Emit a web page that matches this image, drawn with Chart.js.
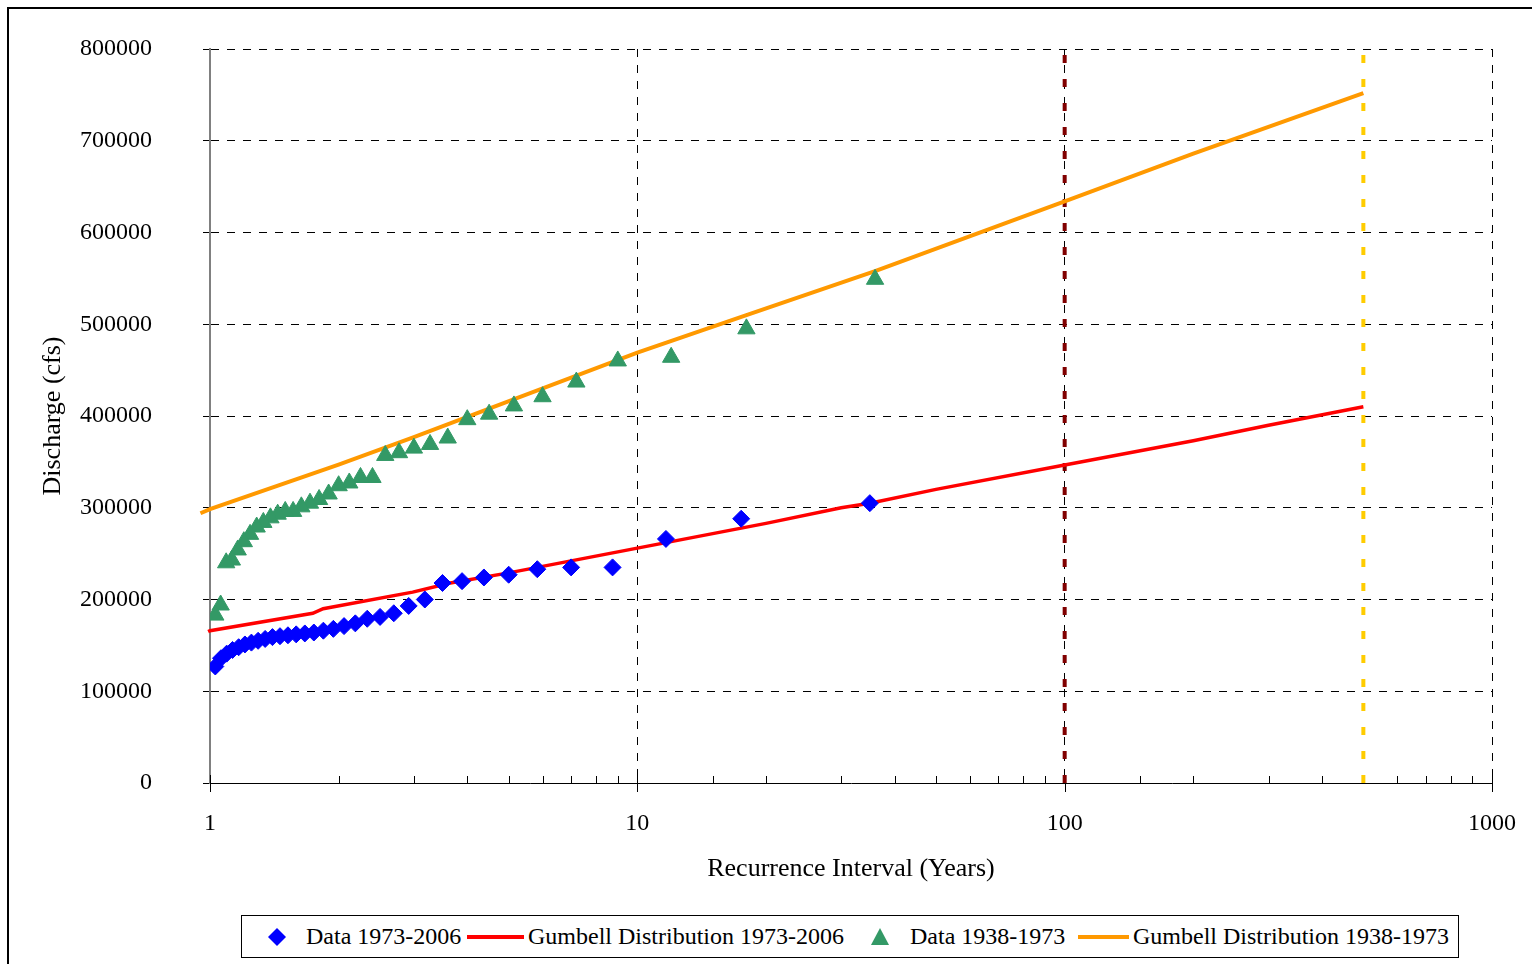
<!DOCTYPE html>
<html>
<head>
<meta charset="utf-8">
<script src="https://cdn.jsdelivr.net/npm/chart.js@4/dist/chart.umd.min.js"></script>
<style>
html,body{margin:0;padding:0;background:#fff;}
#wrap{position:relative;width:1532px;height:964px;overflow:hidden;font-family:"Liberation Serif","Times New Roman",serif;background:#fff;}
#frame{position:absolute;left:7px;top:7px;width:1600px;height:1000px;border-left:2px solid #000;border-top:2px solid #000;pointer-events:none;}
#c{position:absolute;left:0;top:0;}
#legend{position:absolute;left:241px;top:915px;width:1216px;height:41px;border:1px solid #000;background:#fff;}
.lt{position:absolute;top:916px;height:41px;line-height:41px;font-size:24px;white-space:nowrap;color:#000;}
.ic{position:absolute;}
</style>
</head>
<body>
<div id="wrap">
  <canvas id="c" width="1532" height="964"></canvas>
  <div id="frame"></div>
  <div id="legend"></div>
  <svg class="ic" style="left:268px;top:928px" width="18" height="18"><polygon points="9,0 18,9 9,18 0,9" fill="#0000FF"/></svg>
  <div class="lt" id="l1" style="left:306px"></div>
  <div class="ic" style="left:467px;top:935px;width:57px;height:4px;background:#FF0000"></div>
  <div class="lt" id="l2" style="left:528px"></div>
  <svg class="ic" style="left:871px;top:928px" width="18" height="17"><polygon points="9,0 18,17 0,17" fill="#339966"/></svg>
  <div class="lt" id="l3" style="left:910px"></div>
  <div class="ic" style="left:1078px;top:935px;width:51px;height:4px;background:#FF9900"></div>
  <div class="lt" id="l4" style="left:1133px"></div>
</div>
<script>
// ---- data ----
const seriesNames = ['Data 1973-2006', 'Gumbell Distribution 1973-2006', 'Data 1938-1973', 'Gumbell Distribution 1938-1973'];

// Data 1973-2006: recurrence interval (years) and discharge (cfs)
const data7306T = [35, 17.5, 11.667, 8.75, 7, 5.833, 5, 4.375, 3.889, 3.5, 3.182, 2.917, 2.692, 2.5, 2.333, 2.188, 2.059, 1.944, 1.842, 1.75, 1.667, 1.591, 1.522, 1.458, 1.4, 1.346, 1.296, 1.25, 1.207, 1.167, 1.129, 1.094, 1.061, 1.029];
const data7306Q = [305000, 288000, 266000, 235000, 235000, 233000, 227000, 224000, 220000, 218000, 200000, 193000, 185000, 181000, 179000, 174000, 171000, 168000, 166000, 164000, 163000, 162000, 161000, 160000, 159000, 157000, 155000, 153000, 151000, 148000, 145000, 141000, 136000, 127000];

// Data 1938-1973
const data3873T = [36, 18, 12, 9, 7.2, 6, 5.143, 4.5, 4, 3.6, 3.273, 3, 2.769, 2.571, 2.4, 2.25, 2.118, 2, 1.895, 1.8, 1.714, 1.636, 1.565, 1.5, 1.44, 1.385, 1.333, 1.286, 1.241, 1.2, 1.161, 1.125, 1.091, 1.059, 1.029];
const data3873Q = [549000, 495000, 464000, 460000, 437000, 421000, 411000, 402000, 396000, 376000, 369000, 365000, 360000, 357000, 333000, 333000, 327000, 324000, 315000, 309000, 305000, 301000, 296000, 296000, 293000, 289000, 284000, 279000, 271000, 263000, 254000, 243000, 240000, 194000, 183000];

// Gumbell Distribution 1973-2006
const gum7306T = [0.99, 1, 1.74, 1.84, 2.98, 3.65, 5, 10, 20, 30, 35, 50, 100, 200, 300, 500];
const gum7306Q = [165000, 166000, 185000, 190000, 208000, 218000, 229000, 256000, 283000, 300000, 305000, 320000, 346500, 373000, 390000, 410000];

// Gumbell Distribution 1938-1973
const gum3873T = [0.95, 1, 2, 3, 4.5, 10, 18, 36, 100, 200, 500];
const gum3873Q = [294000, 298500, 347000, 377000, 408000, 469000, 510000, 558000, 634000, 686000, 752000];

// vertical reference lines (100-year and 500-year)
const refT = [100, 500];
const refColors = ['#800000', '#FFCC00'];
const yRange = [0, 800000];

const xTickLabels = ['1', '10', '100', '1000'];
const yStep = 100000;
const xTitle = 'Recurrence Interval (Years)';
const yTitle = 'Discharge (cfs)';

// ---- legend text ----
['l1','l2','l3','l4'].forEach((id,i)=>{ document.getElementById(id).textContent = seriesNames[i]; });

const pts = (xs, ys) => xs.map((x, i) => ({x: x, y: ys[i]}));
const isPow10 = v => { const l = Math.log10(v); return Math.abs(l - Math.round(l)) < 1e-9; };

const datasets = [
  {label: seriesNames[0], data: pts(data7306T, data7306Q), showLine: false,
   pointStyle: 'rectRot', pointRadius: 8.5, pointBackgroundColor: '#0000FF', pointBorderColor: '#0000FF', pointBorderWidth: 1},
  {label: seriesNames[2], data: pts(data3873T, data3873Q), showLine: false,
   pointStyle: 'triangle', pointRadius: 10, pointBackgroundColor: '#339966', pointBorderColor: '#339966', pointBorderWidth: 1},
  {label: seriesNames[1], data: pts(gum7306T, gum7306Q), showLine: true, pointRadius: 0,
   borderColor: '#FF0000', borderWidth: 3.5, fill: false, tension: 0, clip: false},
  {label: seriesNames[3], data: pts(gum3873T, gum3873Q), showLine: true, pointRadius: 0,
   borderColor: '#FF9900', borderWidth: 4, fill: false, tension: 0, clip: false}
];
refT.forEach((t, i) => {
  datasets.push({label: 'ref' + t, data: [{x: t, y: yRange[0]}, {x: t, y: yRange[1]}], showLine: true, pointRadius: 0,
    borderColor: refColors[i], borderWidth: 4, borderDash: [8, 16], borderCapStyle: 'butt', fill: false});
});

const xTicksPlugin = {
  id: 'xTickMarks',
  beforeDatasetsDraw(chart) {
    const sx = chart.scales.x, ctx = chart.ctx, b = chart.chartArea.bottom;
    ctx.save();
    ctx.strokeStyle = '#000';
    ctx.lineWidth = 1;
    sx.ticks.forEach(t => {
      const p = Math.round(sx.getPixelForValue(t.value)) + 0.5;
      const maj = isPow10(t.value);
      ctx.beginPath();
      ctx.moveTo(p, maj ? b - 8 : b - 7);
      ctx.lineTo(p, maj ? b + 9 : b);
      ctx.stroke();
    });
    ctx.restore();
  }
};

Chart.defaults.font.family = '"Liberation Serif", "Times New Roman", serif';
Chart.defaults.color = '#000';

new Chart(document.getElementById('c'), {
  type: 'scatter',
  data: {datasets: datasets},
  plugins: [xTicksPlugin],
  options: {
    responsive: false,
    animation: false,
    events: [],
    devicePixelRatio: 1,
    layout: {padding: {left: 0, top: 49, right: 40, bottom: 0}},
    plugins: {legend: {display: false}, tooltip: {enabled: false}, title: {display: false}},
    scales: {
      x: {
        type: 'logarithmic',
        min: 1, max: 1000,
        afterFit: s => { s.height = 181; s.paddingLeft = 0; s.paddingRight = 0; },
        grid: {
          drawTicks: false,
          lineWidth: 1,
          color: c => (c.tick && c.tick.value > 1 && isPow10(c.tick.value)) ? '#000' : 'rgba(0,0,0,0)'
        },
        border: {display: true, color: '#000', width: 1, dash: [8, 8]},
        ticks: {
          autoSkip: false, maxRotation: 0, minRotation: 0, padding: 26,
          font: {size: 24},
          callback: v => { const s = String(Math.round(v)); return xTickLabels.includes(s) && isPow10(v) ? s : ''; }
        },
        title: {display: true, text: xTitle, font: {size: 26}, padding: {top: 0, bottom: 79}}
      },
      y: {
        min: yRange[0], max: yRange[1],
        afterFit: s => { s.width = 210; s.paddingTop = 0; s.paddingBottom = 0; },
        grid: {
          drawTicks: true, tickLength: 7, tickColor: '#000', tickWidth: 1,
          lineWidth: 1,
          color: c => (c.tick && c.tick.value === 0) ? 'rgba(0,0,0,0)' : '#000'
        },
        border: {display: true, color: '#808080', width: 2, dash: [8, 8]},
        ticks: {stepSize: yStep, padding: 51, font: {size: 24}, callback: v => String(v)},
        title: {display: true, text: yTitle, font: {size: 26}, padding: {top: 38, bottom: 0}}
      }
    }
  }
});
</script>
</body>
</html>
